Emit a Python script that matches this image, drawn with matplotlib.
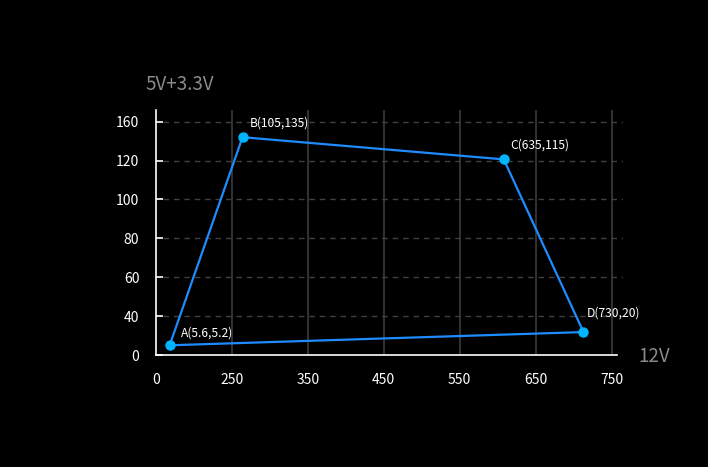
import matplotlib.pyplot as plt

plt.rcParams['font.family'] = ['Noto Sans CJK SC', 'DejaVu Sans']

# tick labels (evenly spaced on the axis)
x_labels = ["0", "250", "350", "450", "550", "650", "750"]
y_labels = ["0", "40", "60", "80", "100", "120", "160"]

# polygon points, positions read in tick-slot units
point_names = ["A(5.6,5.2)", "B(105,135)", "C(635,115)", "D(730,20)"]
x_pos = [0.18, 1.14, 4.58, 5.63]
y_pos = [0.25, 5.60, 5.03, 0.59]

# label offsets in points
label_offsets = [(8, 6), (5, 8), (5, 8), (2, 11)]

fig = plt.figure(figsize=(7.08, 4.67), dpi=100, facecolor="black")
ax = fig.add_axes([0.2203, 0.2398, 0.6596, 0.5247])
ax.set_facecolor("black")

ax.plot(x_pos + [x_pos[0]], y_pos + [y_pos[0]], color="#1e8cff", lw=1.6,
        zorder=3)
ax.plot(x_pos, y_pos, "o", color="#00b4ff", ms=6.5, zorder=4)

for name, x, y, off in zip(point_names, x_pos, y_pos, label_offsets):
    ax.annotate(name, (x, y), xytext=off, textcoords="offset points",
                color="white", fontsize=8.7, zorder=5)

ax.set_xlim(0, 6.15)
ax.set_ylim(0, 6.30)
ax.set_xticks(range(len(x_labels)))
ax.set_xticklabels(x_labels)
ax.set_yticks(range(len(y_labels)))
ax.set_yticklabels(y_labels)

for i in range(1, len(x_labels)):
    ax.axvline(i, color="#404040", lw=1.1, zorder=1)
for j in range(1, len(y_labels)):
    ax.axhline(j, xmin=0.015, color="#404040", lw=1, ls=(0, (4, 3.5)),
               zorder=1)

ax.tick_params(axis="y", direction="in", length=5, width=1.2, colors="white",
               labelsize=10, pad=12)
ax.tick_params(axis="x", length=0, colors="white", labelsize=10, pad=13)

for s in ["top", "right"]:
    ax.spines[s].set_visible(False)
ax.spines["left"].set_color("white")
ax.spines["bottom"].set_color("white")
ax.spines["left"].set_linewidth(1.2)
ax.spines["bottom"].set_linewidth(1.2)
ax.spines["bottom"].set_bounds(0, 6.07)

fig.text(145 / 708, 1 - 85 / 467, "5V+3.3V", color="#8a8a8a", fontsize=13.5,
         va="center", ha="left")
fig.text(638 / 708, 1 - 357 / 467, "12V", color="#8a8a8a", fontsize=13.5,
         va="center", ha="left")

fig.savefig("out.png", dpi=100, facecolor="black")
